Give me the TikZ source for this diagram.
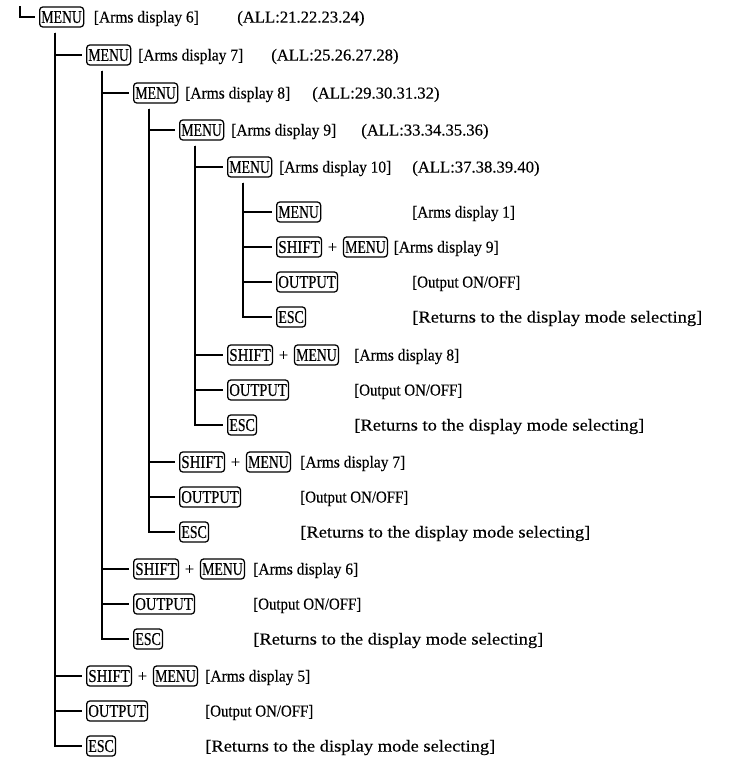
\documentclass[tikz,border=0pt]{standalone}
\usepackage{graphicx}
\usepackage{fontspec}
\setmainfont{Liberation Serif}[FakeBold=0.3]
\newfontfamily\keyfont{Liberation Serif}[FakeBold=0.4]
\usetikzlibrary{positioning,calc}
\newcommand\kMENU{\resizebox{30.4pt}{\height}{MENU}}
\newcommand\kSHIFT{\resizebox{31.1pt}{\height}{SHIFT}}
\newcommand\kOUTPUT{\resizebox{43.1pt}{\height}{OUTPUT}}
\newcommand\kESC{\resizebox{19.1pt}{\height}{ESC}}
\newcommand\armsd[2][78.75pt]{\resizebox{#1}{\height}{[Arms display #2]}}
\newcommand\outpd{\resizebox{81pt}{\height}{[Output ON/OFF]}}
\newcommand\retd{\resizebox{217.5pt}{\height}{[Returns to the display mode selecting]}}
\tikzset{
  keybox/.style={draw, rounded corners=2.4pt, line width=0.95pt, inner xsep=1.3pt, inner ysep=0pt,
    minimum height=15pt, text height=8.9pt, text depth=0pt, anchor=west,
    font=\keyfont\fontsize{13.5}{15}\selectfont},
  lbl/.style={anchor=west, inner sep=0pt, text height=8.3pt, text depth=0pt,
    font=\fontsize{12.5}{14}\selectfont},
  plus/.style={inner sep=0pt, text height=8.3pt, text depth=0pt, font=\fontsize{12.5}{14}\selectfont},
  tree/.style={line width=1pt, shorten >=3pt},
}
\begin{document}
\begin{tikzpicture}[x=0.75pt,y=-0.75pt]
\useasboundingbox (0,0) rectangle (732,765);
% level heads
\node[keybox] (m1) at (39,17) {\kMENU};
\node[lbl, right=7pt of m1] (l1) {\armsd{6}};
\node[lbl] (a1) at (237,17) {(ALL:21.22.23.24)};
\node[keybox] (m2) at (86,55) {\kMENU};
\node[lbl, right=5pt of m2] (l2) {\armsd{7}};
\node[lbl] (a2) at (271,55) {(ALL:25.26.27.28)};
\node[keybox] (m3) at (133,93) {\kMENU};
\node[lbl, right=5pt of m3] (l3) {\armsd{8}};
\node[lbl] (a3) at (312,93) {(ALL:29.30.31.32)};
\node[keybox] (m4) at (179,130) {\kMENU};
\node[lbl, right=5pt of m4] (l4) {\armsd{9}};
\node[lbl] (a4) at (361,130) {(ALL:33.34.35.36)};
\node[keybox] (m5) at (227,167) {\kMENU};
\node[lbl, right=5pt of m5] (l5) {\armsd[84pt]{10}};
\node[lbl] (a5) at (412,167) {(ALL:37.38.39.40)};
% level 6 children
\node[keybox] (k6) at (276,212) {\kMENU};
\node[lbl] (l6) at (412,212) {\armsd[77pt]{1}};
\node[keybox] (s7) at (276,247) {\kSHIFT};
\node[plus, right=4pt of s7] (p7) {+};
\node[keybox, right=4pt of p7] (n7) {\kMENU};
\node[lbl, right=4pt of n7] (l7) {\armsd{9}};
\node[keybox] (o8) at (276,282) {\kOUTPUT};
\node[lbl] (l8) at (412,282) {\outpd};
\node[keybox] (e9) at (276,317) {\kESC};
\node[lbl] (l9) at (412,317) {\retd};
% level 5 children
\node[keybox] (s10) at (227,355) {\kSHIFT};
\node[plus, right=4pt of s10] (p10) {+};
\node[keybox, right=4pt of p10] (n10) {\kMENU};
\node[lbl] (l10) at (354,355) {\armsd{8}};
\node[keybox] (o11) at (227,390) {\kOUTPUT};
\node[lbl] (l11) at (354,390) {\outpd};
\node[keybox] (e12) at (227,425) {\kESC};
\node[lbl] (l12) at (354,425) {\retd};
% level 4 children
\node[keybox] (s13) at (179,462) {\kSHIFT};
\node[plus, right=4pt of s13] (p13) {+};
\node[keybox, right=4pt of p13] (n13) {\kMENU};
\node[lbl] (l13) at (300,462) {\armsd{7}};
\node[keybox] (o14) at (179,497) {\kOUTPUT};
\node[lbl] (l14) at (300,497) {\outpd};
\node[keybox] (e15) at (179,532) {\kESC};
\node[lbl] (l15) at (300,532) {\retd};
% level 3 children
\node[keybox] (s16) at (133,569) {\kSHIFT};
\node[plus, right=4pt of s16] (p16) {+};
\node[keybox, right=4pt of p16] (n16) {\kMENU};
\node[lbl] (l16) at (253,569) {\armsd{6}};
\node[keybox] (o17) at (133,604) {\kOUTPUT};
\node[lbl] (l17) at (253,604) {\outpd};
\node[keybox] (e18) at (133,639) {\kESC};
\node[lbl] (l18) at (253,639) {\retd};
% level 2 children
\node[keybox] (s19) at (86,676) {\kSHIFT};
\node[plus, right=4pt of s19] (p19) {+};
\node[keybox, right=4pt of p19] (n19) {\kMENU};
\node[lbl] (l19) at (205,676) {\armsd{5}};
\node[keybox] (o20) at (86,711) {\kOUTPUT};
\node[lbl] (l20) at (205,711) {\outpd};
\node[keybox] (e21) at (86,746) {\kESC};
\node[lbl] (l21) at (205,746) {\retd};
% tree lines
\coordinate (t0) at (20,6);
\draw[tree] (t0) |- (m1.west);
\foreach \p/\a/\b/\c/\d in {m1/m2/s19/o20/e21, m2/m3/s16/o17/e18, m3/m4/s13/o14/e15, m4/m5/s10/o11/e12, m5/k6/s7/o8/e9}{
  \coordinate (t\p) at ($(\p.south west)+(16,5)$);
  \foreach \ch in {\a,\b,\c,\d}{
    \draw[tree] (t\p) |- (\ch.west);
  }
}
\end{tikzpicture}
\end{document}
